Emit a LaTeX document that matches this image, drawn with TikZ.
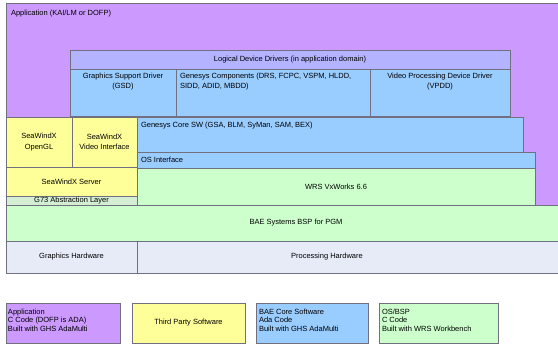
\documentclass[tikz,border=0pt]{standalone}
\usepackage{fontspec}
\setmainfont{Liberation Sans}
\definecolor{appc}{HTML}{CC99FF}
\definecolor{bluec}{HTML}{99CCFF}
\definecolor{lddc}{HTML}{B3B3FF}
\definecolor{yelc}{HTML}{FFFF99}
\definecolor{grnc}{HTML}{CCFFCC}
\definecolor{g73c}{HTML}{D4EED4}
\definecolor{hwc}{HTML}{E6EBF7}
\definecolor{edgec}{HTML}{707080}
\tikzset{
  box/.style={draw=edgec, line width=0.8pt, inner sep=0pt, outer sep=0pt, anchor=north west, align=center, font=\fontsize{7.5}{10.5}\selectfont},
  txt/.style={inner sep=0pt, outer sep=0pt, font=\fontsize{7.5}{10.5}\selectfont},
  legtxt/.style={inner sep=0pt, outer sep=0pt, align=left, anchor=west, font=\fontsize{7.5}{8.4}\selectfont}
}
\begin{document}
\begin{tikzpicture}[x=1pt,y=-1pt]
\useasboundingbox (0,0) rectangle (558,347);
\clip (0,0) rectangle (558,347);
% application
\node[box, fill=appc, minimum width=564, minimum height=202] (app) at (6,3) {};
\node[txt, anchor=west] (apptxt) at (11,14) {Application (KAI/LM or DOFP)};
% logical device drivers
\node[box, fill=lddc, minimum width=440, minimum height=19] (ldd) at (70,50) {Logical Device Drivers (in application domain)};
\node[box, fill=bluec, minimum width=106, minimum height=47] (gsd) at (70,69) {};
\node[txt, anchor=north, align=center] (gsdtxt) at (123,73) {Graphics Support Driver\\(GSD)};
\node[box, fill=bluec, minimum width=194, minimum height=47] (gcomp) at (176,69) {};
\node[txt, anchor=north west, align=left] (gcomptxt) at (180,73) {Genesys Components (DRS, FCPC, VSPM, HLDD,\\SIDD, ADID, MBDD)};
\node[box, fill=bluec, minimum width=140, minimum height=47] (vpdd) at (370,69) {};
\node[txt, anchor=north, align=center] (vpddtxt) at (440,73) {Video Processing Device Driver\\(VPDD)};
% seawindx
\node[box, fill=yelc, minimum width=66, minimum height=50] (ogl) at (6,117) {SeaWindX\\OpenGL};
\node[box, fill=yelc, minimum width=65, minimum height=50] (vi) at (72,117) {SeaWindX\\Video Interface};
% genesys core
\node[box, fill=bluec, minimum width=386, minimum height=35] (core) at (137,117) {};
\node[txt, anchor=west] (coretxt) at (141,126) {Genesys Core SW (GSA, BLM, SyMan, SAM, BEX)};
\node[box, fill=bluec, minimum width=398, minimum height=16] (osi) at (137,152) {};
\node[txt, anchor=west] (ositxt) at (141,160) {OS Interface};
\node[box, fill=yelc, minimum width=131, minimum height=29] (srv) at (6,167) {SeaWindX Server};
\node[box, fill=g73c, minimum width=131, minimum height=9] (g73) at (6,196) {G73 Abstraction Layer};
\node[box, fill=grnc, minimum width=398, minimum height=37] (wrs) at (137,168) {WRS VxWorks 6.6};
% bsp
\node[box, fill=grnc, minimum width=580, minimum height=36] (bsp) at (6,205) {BAE Systems BSP for PGM};
% hardware
\node[box, fill=hwc, minimum width=131, minimum height=32] (ghw) at (6,241) {Graphics Hardware};
\node[box, fill=hwc, minimum width=450, minimum height=32] (phw) at (137,241) {};
\node[txt] (phwtxt) at (327,257) {Processing Hardware};
% legend
\node[box, fill=appc, minimum width=114, minimum height=40] (l1) at (6,303) {};
\node[legtxt] (l1t) at (8,320) {Application\\C Code (DOFP is ADA)\\Built with GHS AdaMulti};
\node[box, fill=yelc, minimum width=113, minimum height=40] (l2) at (132,303) {Third Party Software};
\node[box, fill=bluec, minimum width=112, minimum height=40] (l3) at (256,303) {};
\node[legtxt] (l3t) at (259,320) {BAE Core Software\\Ada Code\\Built with GHS AdaMulti};
\node[box, fill=grnc, minimum width=119, minimum height=40] (l4) at (379,303) {};
\node[legtxt] (l4t) at (382,320) {OS/BSP\\C Code\\Built with WRS Workbench};
\end{tikzpicture}
\end{document}
